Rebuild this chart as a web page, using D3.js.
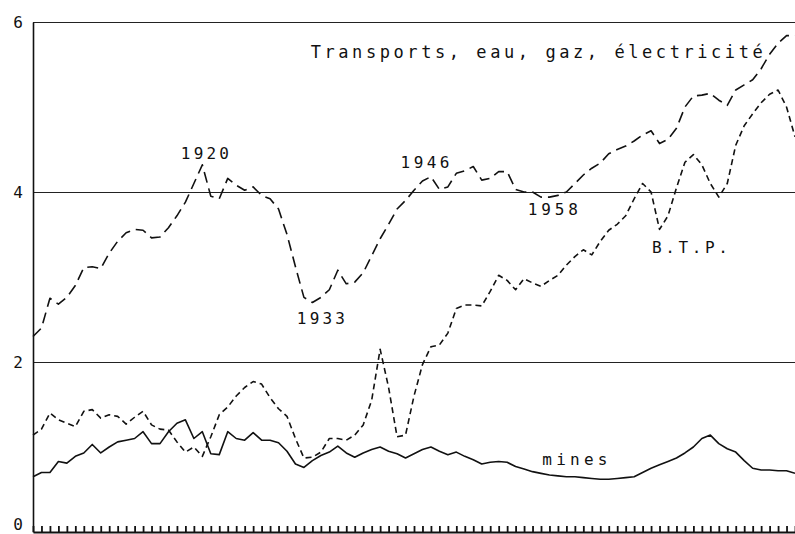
<!DOCTYPE html>
<html lang="fr">
<head>
    <meta charset="utf-8">
    <style>
        body { margin: 0; background: #fff; }
        svg { display: block; }
        text { font-family: "DejaVu Sans Mono", "Liberation Mono", monospace; fill: #111; }
    </style>
</head>
<body>
    <svg width="795" height="534"></svg>
    <script src="https://cdn.jsdelivr.net/npm/d3@7/dist/d3.min.js"></script>
    <script>
        // Data: one value per year, 1900 - 1990
        const years = d3.range(1900, 1991);
        const yTicks = [0, 2, 4, 6];

        const transports = [
            2.30, 2.40, 2.75, 2.68, 2.76, 2.90, 3.11, 3.12, 3.10, 3.28,
            3.42, 3.52, 3.56, 3.55, 3.46, 3.47, 3.58, 3.72, 3.88, 4.10,
            4.32, 3.95, 3.92, 4.16, 4.08, 4.02, 4.06, 3.96, 3.92, 3.80,
            3.50, 3.12, 2.76, 2.70, 2.76, 2.85, 3.08, 2.92, 2.94, 3.05,
            3.25, 3.45, 3.62, 3.80, 3.90, 4.02, 4.13, 4.18, 4.03, 4.06,
            4.22, 4.25, 4.30, 4.14, 4.16, 4.24, 4.24, 4.03, 4.00, 4.00,
            3.94, 3.94, 3.96, 4.00, 4.10, 4.20, 4.28, 4.34, 4.45, 4.50,
            4.54, 4.60, 4.67, 4.72, 4.57, 4.62, 4.75, 5.00, 5.13, 5.14,
            5.16, 5.08, 5.02, 5.20, 5.26, 5.32, 5.45, 5.62, 5.75, 5.84,
            5.84
        ];
        const btp = [
            1.14, 1.21, 1.40, 1.32, 1.28, 1.24, 1.42, 1.44, 1.34, 1.38,
            1.36, 1.27, 1.35, 1.42, 1.26, 1.21, 1.20, 1.06, 0.94, 1.00,
            0.89, 1.12, 1.38, 1.47, 1.60, 1.70, 1.77, 1.74, 1.58, 1.45,
            1.36, 1.10, 0.87, 0.88, 0.94, 1.10, 1.10, 1.08, 1.14, 1.26,
            1.55, 2.15, 1.70, 1.12, 1.14, 1.60, 1.97, 2.18, 2.20, 2.34,
            2.63, 2.67, 2.67, 2.66, 2.83, 3.02, 2.96, 2.85, 2.98, 2.93,
            2.89, 2.96, 3.02, 3.14, 3.24, 3.32, 3.26, 3.42, 3.55, 3.62,
            3.72, 3.92, 4.10, 4.00, 3.56, 3.72, 4.05, 4.35, 4.44, 4.32,
            4.10, 3.94, 4.10, 4.55, 4.78, 4.92, 5.05, 5.15, 5.20, 5.00,
            4.65
        ];
        const mines = [
            0.65, 0.70, 0.70, 0.83, 0.81, 0.89, 0.93, 1.03, 0.93, 1.00,
            1.06, 1.08, 1.10, 1.18, 1.04, 1.04, 1.18, 1.28, 1.32, 1.10,
            1.18, 0.92, 0.91, 1.18, 1.10, 1.08, 1.17, 1.08, 1.08, 1.05,
            0.95, 0.80, 0.76, 0.84, 0.90, 0.94, 1.01, 0.93, 0.88, 0.93,
            0.97, 1.00, 0.95, 0.92, 0.87, 0.92, 0.97, 1.00, 0.95, 0.91,
            0.94, 0.89, 0.85, 0.80, 0.82, 0.83, 0.82, 0.77, 0.74, 0.71,
            0.69, 0.67, 0.66, 0.65, 0.65, 0.64, 0.63, 0.62, 0.62, 0.63,
            0.64, 0.65, 0.70, 0.75, 0.79, 0.83, 0.87, 0.93, 1.00, 1.10,
            1.14, 1.04, 0.98, 0.94, 0.84, 0.75, 0.73, 0.73, 0.72, 0.72,
            0.69
        ];

        // Text placed on the chart (year, value at baseline)
        const labels = [
            { text: "Transports, eau, gaz, électricité", year: 1932.8, value: 5.58, size: 17, len: 452, anchor: "start" },
            { text: "1920", year: 1920.3, value: 4.39, size: 16, len: 48, anchor: "middle" },
            { text: "1933", year: 1934.0, value: 2.45, size: 16, len: 48, anchor: "middle" },
            { text: "1946", year: 1946.3, value: 4.28, size: 16, len: 49, anchor: "middle" },
            { text: "1958", year: 1961.4, value: 3.73, size: 16, len: 50, anchor: "middle" },
            { text: "B.T.P.", year: 1977.6, value: 3.28, size: 16, len: 76, anchor: "middle" },
            { text: "mines", year: 1964.0, value: 0.79, size: 16, len: 65, anchor: "middle" }
        ];

        const svg = d3.select("svg");
        const plotLeft = 33, plotRight = 795, plotTop = 22, plotBottom = 532;

        const x = d3.scaleLinear().domain([1900, 1990]).range([plotLeft, plotRight]);
        const y = d3.scaleLinear().domain([0, 6]).range([plotBottom, plotTop]);

        // Horizontal rules at 2, 4, 6
        svg.append("g")
            .selectAll("line")
            .data(yTicks.filter(d => d > 0))
            .join("line")
            .attr("x1", plotLeft)
            .attr("x2", plotRight)
            .attr("y1", d => y(d) + 0.5)
            .attr("y2", d => y(d) + 0.5)
            .attr("stroke", "#222")
            .attr("stroke-width", 1.1);

        // Left axis (labels only, the line drawn by the domain)
        const yAxis = svg.append("g")
            .attr("transform", `translate(${plotLeft}, 0)`)
            .call(d3.axisLeft(y).tickValues(yTicks).tickSize(0).tickPadding(10).tickFormat(d3.format("d")));
        yAxis.select(".domain").attr("stroke", "#111").attr("stroke-width", 1.6);
        yAxis.selectAll("text")
            .style("font-family", '"DejaVu Sans Mono", monospace')
            .style("font-size", "16px")
            .attr("fill", "#111")
            .attr("y", d => d === 0 ? -8 : 0);

        // Bottom axis with a tick on every year, pointing up
        const xAxis = svg.append("g")
            .attr("transform", `translate(0, ${plotBottom})`)
            .call(d3.axisBottom(x).tickValues(years).tickSizeInner(-6).tickSizeOuter(0).tickFormat(""));
        xAxis.select(".domain").attr("stroke", "#111").attr("stroke-width", 2);
        xAxis.selectAll(".tick line").attr("stroke", "#111").attr("stroke-width", 1.8);

        // Series
        const line = d3.line()
            .x((d, i) => x(years[i]))
            .y(d => y(d));

        const series = [
            { values: transports, dash: "11,6" },
            { values: btp, dash: "6,4" },
            { values: mines, dash: null }
        ];

        svg.append("g")
            .selectAll("path")
            .data(series)
            .join("path")
            .attr("d", d => line(d.values))
            .attr("fill", "none")
            .attr("stroke", "#111")
            .attr("stroke-width", 1.6)
            .attr("stroke-linejoin", "round")
            .attr("stroke-dasharray", d => d.dash);

        // Annotations
        svg.append("g")
            .selectAll("text")
            .data(labels)
            .join("text")
            .attr("x", d => x(d.year))
            .attr("y", d => y(d.value))
            .attr("text-anchor", d => d.anchor)
            .attr("textLength", d => d.len)
            .attr("lengthAdjust", "spacing")
            .style("font-size", d => d.size + "px")
            .text(d => d.text);
    </script>
</body>
</html>
